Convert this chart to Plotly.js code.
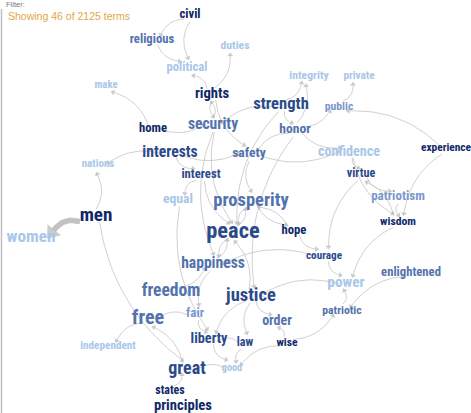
<!DOCTYPE html>
<html>
<head>
<meta charset="utf-8">
<script src="https://cdn.plot.ly/plotly-3.0.1.min.js"></script>
<style>html,body{margin:0;padding:0;background:#fff;}#chart{width:471px;height:413px;}</style>
</head>
<body>
<div id="chart"></div>
<script>
// ---- data ----
var terms = ["civil","religious","duties","political","make","rights","integrity","private","strength","public",
  "home","security","honor","interests","safety","confidence","experience","interest","virtue","nations",
  "equal","prosperity","patriotism","men","wisdom","women","peace","hope","courage","happiness",
  "power","enlightened","freedom","justice","patriotic","free","fair","order","liberty","law",
  "wise","independent","great","good","states","principles"];
var termX = [190,152,235,187,106,212,309,359,281,339,
  153,213,295,170,249,349,446,201,361,98,
  178,251,398,96,398,31,233,294,324,213,
  346,411,171,251,342,148,195,277,209,245,
  287,108,187,232,170,183];
var termY = [15,40,46,68,85,94,76,76,105,107,
  129,125,130,153,154,152,148,175,174,164,
  200,201,197,216,222,238,232,231,256,264,
  283,273,292,296,311,319,314,322,339,343,
  343,346,369,368,391,406];
var termSize = [13,13,12,13,11,15,12,11.5,17,12,
  13,16,14,16,14,14.5,11.7,13,12.5,11.3,
  14,19,13.4,19.6,12,17.7,23,13,11.5,16,
  15.7,13,18,19,12,20.6,13.3,14.3,14.6,12.5,
  12,11.5,18.5,10.5,12.2,15];
// shade: 0 = dark, 1 = mid-dark, 2 = mid, 3 = light-mid, 4 = light
var termShade = [0,2,4,4,4,0,4,4,1,3,
  0,2,2,1,2,4,0,1,1,4,
  4,2,3,0,0,4,1,0,1,2,
  4,2,2,1,2,2,3,2,1,1,
  0,4,1,4,0,0];
var edgeFrom = ["civil","civil","religious","rights","rights","home","strength","honor","public","experience",
  "strength","honor","safety","honor","confidence","experience","virtue","men","interests","men",
  "men","free","fair","great","good","states","law","wise","liberty","law",
  "patriotic","enlightened","wisdom","courage","hope","peace","prosperity","happiness","justice","security",
  "safety","interest","equal","interests","home","rights","honor","strength","security","justice",
  "wise","happiness","freedom","justice","peace","prosperity","hope","virtue","wisdom","patriotism",
  "courage","confidence","power","wise","honor","interests","strength","rights","interest","security",
  "justice","fair"];
var edgeTo = ["religious","political","political","political","duties","make","integrity","integrity","private","public",
  "security","public","confidence","confidence","virtue","wisdom","patriotism","nations","nations","women",
  "great","independent","free","free","great","great","liberty","good","good","good",
  "power","patriotic","power","power","courage","prosperity","peace","peace","peace","peace",
  "prosperity","equal","liberty","safety","security","security","justice","peace","happiness","order",
  "order","fair","happiness","liberty","happiness","hope","prosperity","courage","virtue","wisdom",
  "happiness","wisdom","justice","patriotic","safety","interest","honor","safety","peace","rights",
  "law","liberty"];
var edgeWeight = [1,1,1,1,1,1,1,1,1,1, 1,1,1,1,1,1,1,1,1,5,
  1,1,1,1,1,1,1,1,1,1, 1,1,1,1,1,1,1,1,1,1,
  1,1,1,1,1,1,1,1,1,1, 1,1,1,1,1,1,1,1,1,1,
  1,1,1,1,1,1,1,1,1,1, 1,1];
var statusText = "Showing 46 of 2125 terms";
var filterText = "Filter:";

// ---- styles ----
var shadeColors = ["#0f2868","#2c4a8a","#5373ad","#7a98cc","#a9c7e8"];
var edgeColor = "#c4c4c4";
var headColor = "#b3b3b3";

// pick the narrowest installed bold font and scale sizes to narrow-font widths
var cv = document.createElement('canvas').getContext('2d');
function meas(fam){ cv.font = "bold 100px " + fam; return cv.measureText("prosperity peace freedom justice").width; }
var baseMono = meas("monospace");
var libW = meas("'Liberation Sans', monospace");
var cands = ["'Liberation Sans Narrow'","'Arial Narrow'","'Roboto Condensed'","'DejaVu Sans Condensed'","'Liberation Sans'"];
var chosen = "'Liberation Sans'", chosenW = libW;
cands.forEach(function(f){
  var w = meas(f + ", monospace");
  if (Math.abs(w - baseMono) > 0.5 && w < chosenW - 0.5) { chosen = f; chosenW = w; }
});
var sizeScale = (0.82 * libW) / chosenW;
if (chosen === "'Liberation Sans'") sizeScale = 0.86;
var fontFamily = chosen.replace(/'/g, "") + ", Liberation Sans, Arial, sans-serif";

var idx = {};
terms.forEach(function(t,i){idx[t]=i;});

var lineX = [], lineY = [], thickX = [], thickY = [];
var headX = [], headY = [], headAng = [], headSize = [];
function bez(p0,c,p2,t){var u=1-t;return [u*u*p0[0]+2*u*t*c[0]+t*t*p2[0], u*u*p0[1]+2*u*t*c[1]+t*t*p2[1]];}
edgeFrom.forEach(function(f,k){
  var a = idx[f], b = idx[edgeTo[k]];
  var thick = edgeWeight[k] > 1;
  var s = [termX[a],termY[a]], e = [termX[b],termY[b]];
  var dx = e[0]-s[0], dy = e[1]-s[1], L = Math.sqrt(dx*dx+dy*dy);
  var ux = dx/L, uy = dy/L;
  var trimS = 7, trimE = Math.min(11, L*0.3);
  if (thick) { trimS = 17; trimE = 24; }
  var p0 = [s[0]+ux*trimS, s[1]+uy*trimS], p2 = [e[0]-ux*trimE, e[1]-uy*trimE];
  var curv = thick ? 0.14 : 0.18;
  var m = [(p0[0]+p2[0])/2, (p0[1]+p2[1])/2];
  var c = [m[0]-uy*L*curv, m[1]+ux*L*curv];
  var tx = thick ? thickX : lineX, ty = thick ? thickY : lineY;
  for (var i=0;i<=20;i++){var p=bez(p0,c,p2,i/20);tx.push(p[0]);ty.push(p[1]);}
  tx.push(null); ty.push(null);
  var q = bez(p0,c,p2,0.92);
  var hx = p2[0]-q[0], hy = p2[1]-q[1], hl = Math.sqrt(hx*hx+hy*hy) || 1;
  var hs = thick ? 15 : 5;
  headX.push(p2[0] + hx/hl*hs*0.2); headY.push(p2[1] + hy/hl*hs*0.2);
  headAng.push(Math.atan2(hx, -hy) * 180 / Math.PI);
  headSize.push(hs);
});

var anns = [];
anns.push({x:6, y:16, xref:'x', yref:'y', text:statusText, showarrow:false, xanchor:'left', yanchor:'middle',
  font:{family:'Liberation Sans, Arial, sans-serif', size:10.5, color:'#e3a545'}});
anns.push({x:4, y:4, xref:'x', yref:'y', text:filterText, showarrow:false, xanchor:'left', yanchor:'middle',
  font:{family:'Liberation Sans, Arial, sans-serif', size:7.5, color:'#777'}});

var traces = [
  {type:'scatter', mode:'lines', x:lineX, y:lineY, line:{color:edgeColor, width:0.8}, hoverinfo:'skip', connectgaps:false},
  {type:'scatter', mode:'lines', x:thickX, y:thickY, line:{color:'#c2c2c2', width:5.5}, hoverinfo:'skip', connectgaps:false},
  {type:'scatter', mode:'markers', x:headX, y:headY, hoverinfo:'skip',
   marker:{symbol:'triangle-up', size:headSize, angle:headAng, color:headColor, line:{width:0}}},
  {type:'scatter', mode:'text', x:termX, y:termY, text:terms, textposition:'middle center',
   textfont:{family:fontFamily, size:termSize.map(function(s){return s*sizeScale;}), weight:'bold',
     color:termShade.map(function(s){return shadeColors[s];})}, hoverinfo:'text'}
];

var layout = {
  width:471, height:413, margin:{l:0,r:0,t:0,b:0}, showlegend:false,
  paper_bgcolor:'#fff', plot_bgcolor:'#fff',
  xaxis:{range:[0,471], visible:false, fixedrange:true},
  yaxis:{range:[413,0], visible:false, fixedrange:true},
  annotations: anns,
  shapes:[{type:'line', xref:'x', yref:'y', x0:1.5, x1:1.5, y0:9, y1:413, line:{color:'#bfbfbf', width:1.5}}]
};
Plotly.newPlot('chart', traces, layout, {displayModeBar:false, staticPlot:true});
</script>
</body>
</html>
